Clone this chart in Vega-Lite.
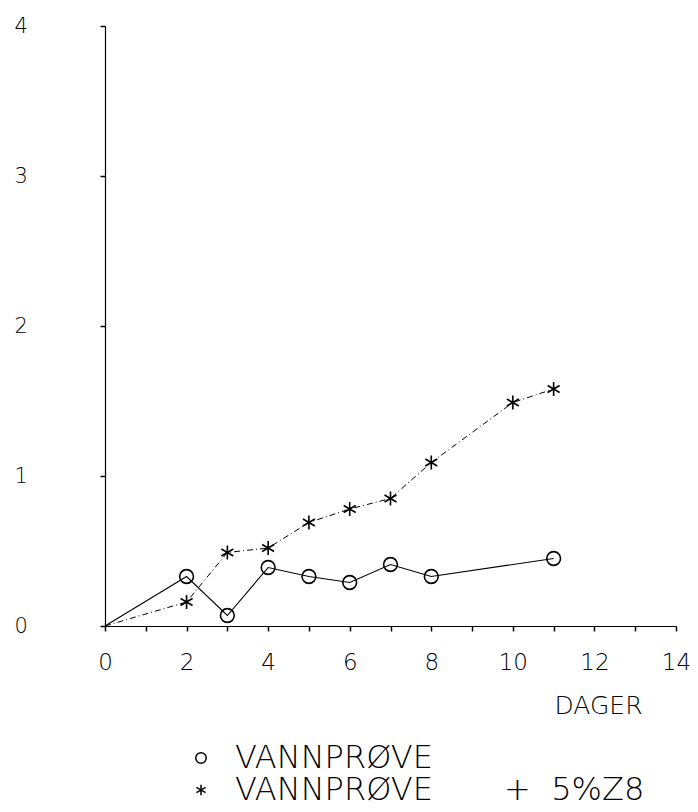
{
  "$schema": "https://vega.github.io/schema/vega-lite/v6.json",
  "width": 571,
  "height": 600,
  "autosize": {"type": "none"},
  "padding": {"left": 105, "top": 26, "right": 22, "bottom": 186},
  "background": "white",
  "config": {"view": {"stroke": null}, "font": "DejaVu Sans"},
  "data": {
    "values": [
      {"series": "VANNPRØVE", "day": 0, "value": 0},
      {"series": "VANNPRØVE", "day": 2, "value": 0.33},
      {"series": "VANNPRØVE", "day": 3, "value": 0.07},
      {"series": "VANNPRØVE", "day": 4, "value": 0.39},
      {"series": "VANNPRØVE", "day": 5, "value": 0.33},
      {"series": "VANNPRØVE", "day": 6, "value": 0.29},
      {"series": "VANNPRØVE", "day": 7, "value": 0.41},
      {"series": "VANNPRØVE", "day": 8, "value": 0.33},
      {"series": "VANNPRØVE", "day": 11, "value": 0.45},
      {"series": "VANNPRØVE\u00a0\u00a0\u00a0\u00a0\u00a0\u00a0\u00a0+\u00a0\u00a05%Z8", "day": 0, "value": 0},
      {"series": "VANNPRØVE\u00a0\u00a0\u00a0\u00a0\u00a0\u00a0\u00a0+\u00a0\u00a05%Z8", "day": 2, "value": 0.16},
      {"series": "VANNPRØVE\u00a0\u00a0\u00a0\u00a0\u00a0\u00a0\u00a0+\u00a0\u00a05%Z8", "day": 3, "value": 0.49},
      {"series": "VANNPRØVE\u00a0\u00a0\u00a0\u00a0\u00a0\u00a0\u00a0+\u00a0\u00a05%Z8", "day": 4, "value": 0.52},
      {"series": "VANNPRØVE\u00a0\u00a0\u00a0\u00a0\u00a0\u00a0\u00a0+\u00a0\u00a05%Z8", "day": 5, "value": 0.69},
      {"series": "VANNPRØVE\u00a0\u00a0\u00a0\u00a0\u00a0\u00a0\u00a0+\u00a0\u00a05%Z8", "day": 6, "value": 0.78},
      {"series": "VANNPRØVE\u00a0\u00a0\u00a0\u00a0\u00a0\u00a0\u00a0+\u00a0\u00a05%Z8", "day": 7, "value": 0.85},
      {"series": "VANNPRØVE\u00a0\u00a0\u00a0\u00a0\u00a0\u00a0\u00a0+\u00a0\u00a05%Z8", "day": 8, "value": 1.09},
      {"series": "VANNPRØVE\u00a0\u00a0\u00a0\u00a0\u00a0\u00a0\u00a0+\u00a0\u00a05%Z8", "day": 10, "value": 1.49},
      {"series": "VANNPRØVE\u00a0\u00a0\u00a0\u00a0\u00a0\u00a0\u00a0+\u00a0\u00a05%Z8", "day": 11, "value": 1.58}
    ]
  },
  "layer": [
    {
      "transform": [{"filter": "datum.series == 'VANNPRØVE'"}],
      "mark": {"type": "line", "color": "black", "strokeWidth": 1.1},
      "encoding": {
        "x": {
          "field": "day", "type": "quantitative",
          "scale": {"domain": [0, 14], "nice": false},
          "axis": {
            "values": [0,1,2,3,4,5,6,7,8,9,10,11,12,13,14],
            "labelExpr": "datum.value % 2 == 0 ? datum.label : ''",
            "grid": false, "domainColor": "black", "domainWidth": 1.2,
            "tickColor": "black", "tickSize": 5, "tickWidth": 1.5,
            "labelFontSize": 23, "labelColor": "black", "labelPadding": 20,
            "labelFont": "DejaVu Sans", "labelFontWeight": 200, "labelFlush": false,
            "title": "DAGER", "titleFontSize": 25, "titleFontWeight": 200,
            "titleFont": "DejaVu Sans", "titleColor": "black",
            "titleX": 537, "titleY": 79, "titleAlign": "right", "titleBaseline": "middle"
          }
        },
        "y": {
          "field": "value", "type": "quantitative",
          "scale": {"domain": [0, 4], "nice": false},
          "axis": {
            "values": [0,0.5,1,1.5,2,2.5,3,3.5,4],
            "format": "d",
            "labelExpr": "datum.value % 1 == 0 ? datum.label : ''",
            "grid": false, "domainColor": "black", "domainWidth": 1.2,
            "tickColor": "black", "tickSize": 5, "tickWidth": 1.5,
            "labelFontSize": 21, "labelColor": "black", "labelPadding": 86,
            "labelAlign": "left", "labelBaseline": "middle",
            "labelFont": "DejaVu Sans", "labelFontWeight": 200,
            "title": null
          }
        }
      }
    },
    {
      "transform": [{"filter": "datum.series != 'VANNPRØVE'"}],
      "mark": {"type": "line", "color": "black", "strokeWidth": 1, "strokeDash": [6, 3, 1, 3]},
      "encoding": {
        "x": {"field": "day", "type": "quantitative", "axis": null},
        "y": {"field": "value", "type": "quantitative", "axis": null}
      }
    },
    {
      "mark": {"type": "point", "filled": false, "color": "black", "strokeWidth": 1.6, "size": 190},
      "encoding": {
        "x": {"field": "day", "type": "quantitative", "axis": null},
        "y": {"field": "value", "type": "quantitative", "axis": null},
        "opacity": {"condition": {"test": "datum.day > 0", "value": 1}, "value": 0},
        "shape": {
          "field": "series", "type": "nominal",
          "scale": {
            "domain": ["VANNPRØVE", "VANNPRØVE\u00a0\u00a0\u00a0\u00a0\u00a0\u00a0\u00a0+\u00a0\u00a05%Z8"],
            "range": ["circle", "M0,-1L0,1M-0.87,-0.5L0.87,0.5M-0.87,0.5L0.87,-0.5"]
          },
          "legend": {
            "orient": "none", "legendX": 80, "legendY": 716, "title": null,
            "labelFontSize": 32, "labelFont": "DejaVu Sans", "labelFontWeight": 200,
            "labelColor": "black", "labelLimit": 600,
            "symbolSize": 110, "symbolStrokeColor": "black", "symbolStrokeWidth": 1.5,
            "symbolOpacity": 1,
            "rowPadding": 0, "labelOffset": 18, "padding": 0
          }
        }
      }
    }
  ],
  "resolve": {"axis": {"x": "independent", "y": "independent"}}
}
